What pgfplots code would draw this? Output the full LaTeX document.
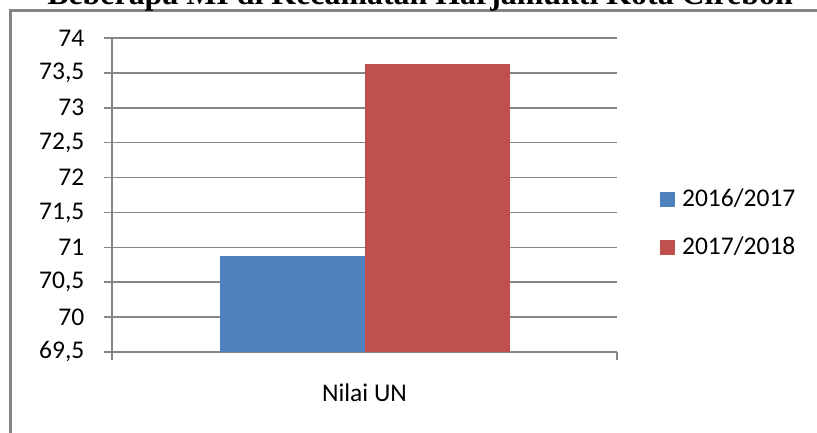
\documentclass[border=0pt]{standalone}
\usepackage{fontspec}
\setmainfont{Carlito}
\newfontfamily\titlefont{Liberation Serif}
\usepackage{pgfplots}
\pgfplotsset{compat=1.18}
\definecolor{barblue}{HTML}{4F81BD}
\definecolor{barred}{HTML}{C0504D}
\definecolor{linegray}{HTML}{868686}
\begin{document}
\begin{tikzpicture}[x=1bp,y=1bp]
\fontsize{25.5bp}{30bp}\selectfont
\useasboundingbox (0,0) rectangle (817,433);
\clip (0,0) rectangle (817,433);
% chart frame
\draw[linegray, line width=2.5bp] (10.5,-20) -- (10.5,422.5) -- (840,422.5);
% chart title
\node[anchor=base, inner sep=0] at (420,428)
  {\titlefont\bfseries\fontsize{31.9bp}{36bp}\selectfont Beberapa MI di Kecamatan Harjamukti Kota Cirebon};
\begin{axis}[
  at={(112bp,81bp)}, anchor=south west,
  scale only axis, width=505bp, height=314bp,
  ybar=0pt, bar width=145bp,
  xmin=-1, xmax=1,
  ymin=69.5, ymax=74,
  ytick={69.5,70,70.5,71,71.5,72,72.5,73,73.5,74},
  xtick={-1,1}, xticklabels={},
  xlabel={Nilai UN},
  xlabel style={at={(axis description cs:0.5,0)}, anchor=base, inner sep=0pt, yshift=-50bp},
  axis x line*=bottom, axis y line*=left,
  axis line style={linegray, line width=1.6bp, -},
  tick align=outside,
  major tick length=8.5bp,
  every tick/.style={linegray, line width=1.6bp},
  ymajorgrids, xmajorgrids=false, grid style={linegray, line width=1.6bp},
  /pgf/number format/.cd, use comma, 1000 sep={}, assume math mode=true,
  /pgfplots/.cd,
  yticklabel style={anchor=east, inner sep=0pt, xshift=-19bp},
  legend style={at={(1.085,0.409)}, anchor=west, draw=none, fill=none,
    inner sep=0pt, row sep=27bp, column sep=0bp,
    nodes={inner sep=0pt, anchor=west}},
  legend cell align=left,
  legend image code/.code={\fill[#1] (0bp,-7.5bp) rectangle (15bp,7.5bp);},
]
\addplot[fill=barblue, draw=none] coordinates {(0,70.88)};
\addplot[fill=barred, draw=none] coordinates {(0,73.63)};
\legend{\hspace{7bp}2016/2017, \hspace{7bp}2017/2018}
\end{axis}
\end{tikzpicture}
\end{document}
